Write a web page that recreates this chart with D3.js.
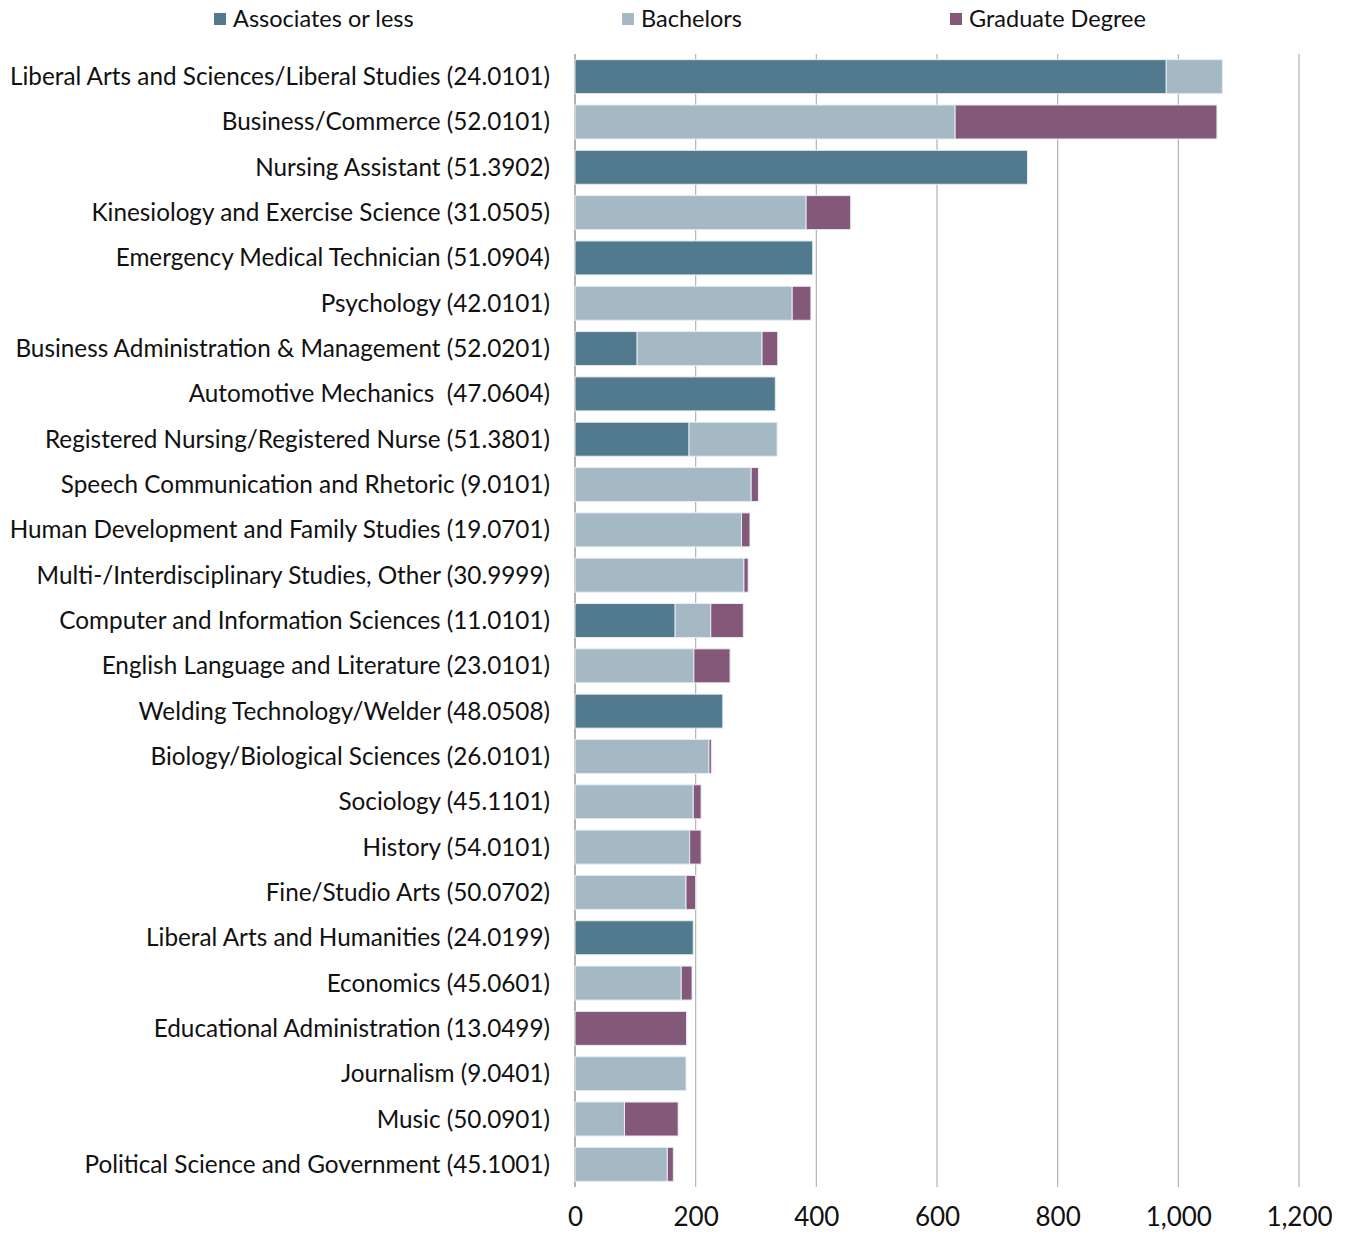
<!DOCTYPE html>
<html>
<head>
<meta charset="utf-8">
<script src="https://cdn.jsdelivr.net/npm/d3@7"></script>
<style>
  body { margin: 0; background: #fff; }
  svg text { font-family: "Lato", "Noto Sans", sans-serif; fill: #111; }
  .cat-label { white-space: pre; }
</style>
</head>
<body>
<svg id="chart" width="1348" height="1234"></svg>
<script>
const categories = [
  "Liberal Arts and Sciences/Liberal Studies (24.0101)",
  "Business/Commerce (52.0101)",
  "Nursing Assistant (51.3902)",
  "Kinesiology and Exercise Science (31.0505)",
  "Emergency Medical Technician (51.0904)",
  "Psychology (42.0101)",
  "Business Administration & Management (52.0201)",
  "Automotive Mechanics  (47.0604)",
  "Registered Nursing/Registered Nurse (51.3801)",
  "Speech Communication and Rhetoric (9.0101)",
  "Human Development and Family Studies (19.0701)",
  "Multi-/Interdisciplinary Studies, Other (30.9999)",
  "Computer and Information Sciences (11.0101)",
  "English Language and Literature (23.0101)",
  "Welding Technology/Welder (48.0508)",
  "Biology/Biological Sciences (26.0101)",
  "Sociology (45.1101)",
  "History (54.0101)",
  "Fine/Studio Arts (50.0702)",
  "Liberal Arts and Humanities (24.0199)",
  "Economics (45.0601)",
  "Educational Administration (13.0499)",
  "Journalism (9.0401)",
  "Music (50.0901)",
  "Political Science and Government (45.1001)"
];

const associates = [980, 0, 750, 0, 394, 0, 103, 332, 189, 0, 0, 0, 166, 0, 245, 0, 0, 0, 0, 196, 0, 0, 0, 0, 0];
const bachelors  = [93, 630, 0, 383, 0, 360, 207, 0, 146, 292, 276, 280, 59, 197, 0, 222, 196, 190, 184, 0, 176, 0, 184, 82, 153];
const graduate   = [0, 434, 0, 74, 0, 31, 26, 0, 0, 12, 14, 7, 54, 60, 0, 4, 13, 19, 16, 0, 18, 185, 0, 89, 10];

const seriesNames = ["Associates or less", "Bachelors", "Graduate Degree"];
const seriesKeys = ["assoc", "bach", "grad"];
const xTicks = [0, 200, 400, 600, 800, 1000, 1200];

const colors = ["#527a8e", "#a5b9c4", "#845878"];

const rows = categories.map((c, i) => ({
  cat: c, assoc: associates[i], bach: bachelors[i], grad: graduate[i]
}));

const svg = d3.select("#chart");
const margin = { left: 575, top: 54, right: 49, bottom: 47 };
const width = 1348, height = 1234;

const x = d3.scaleLinear().domain([0, 1200]).range([margin.left, width - margin.right]);
const y = d3.scaleBand().domain(categories)
  .range([margin.top, height - margin.bottom])
  .paddingInner(0.25).paddingOuter(0.125);

// gridlines
svg.append("g")
  .selectAll("line").data(xTicks).join("line")
    .attr("x1", d => x(d)).attr("x2", d => x(d))
    .attr("y1", margin.top).attr("y2", height - margin.bottom)
    .attr("stroke", d => d == 0 ? "#999" : "#b3b3b3")
    .attr("stroke-width", d => d == 0 ? 1.5 : 1.2);

// stacked bars
const stack = d3.stack().keys(seriesKeys);
const stacked = stack(rows);

svg.append("g")
  .selectAll("g").data(stacked).join("g")
    .attr("fill", (d, i) => colors[i])
  .selectAll("rect").data(d => d.filter(s => s[1] - s[0] > 0)).join("rect")
    .attr("x", d => x(d[0]))
    .attr("y", d => y(d.data.cat))
    .attr("width", d => x(d[1]) - x(d[0]))
    .attr("height", y.bandwidth())
    .attr("stroke", "#e6edf1")
    .attr("stroke-width", 1);

// category labels
svg.append("g")
  .selectAll("text").data(categories).join("text")
    .attr("class", "cat-label")
    .attr("x", 550)
    .attr("y", d => y(d) + y.bandwidth() / 2)
    .attr("dy", "0.35em")
    .attr("text-anchor", "end")
    .attr("font-size", 24.3)
    .text(d => d);

// x axis labels
const xAxis = d3.axisBottom(x).tickValues(xTicks).tickSize(0).tickPadding(0)
  .tickFormat(d3.format(","));
const xAxisG = svg.append("g")
  .attr("transform", `translate(0, ${height - margin.bottom + 21})`)
  .call(xAxis);
xAxisG.select(".domain").remove();
xAxisG.selectAll("text").attr("font-size", 26).attr("fill", "#111")
  .attr("font-family", "Lato, sans-serif");

// legend
const legendX = [214, 622, 950];
const legend = svg.append("g");
seriesNames.forEach((name, i) => {
  legend.append("rect")
    .attr("x", legendX[i]).attr("y", 13)
    .attr("width", 12).attr("height", 12)
    .attr("fill", colors[i]);
  legend.append("text")
    .attr("x", legendX[i] + 19).attr("y", 19)
    .attr("dy", "0.35em")
    .attr("font-size", 23.5)
    .text(name);
});
</script>
</body>
</html>
